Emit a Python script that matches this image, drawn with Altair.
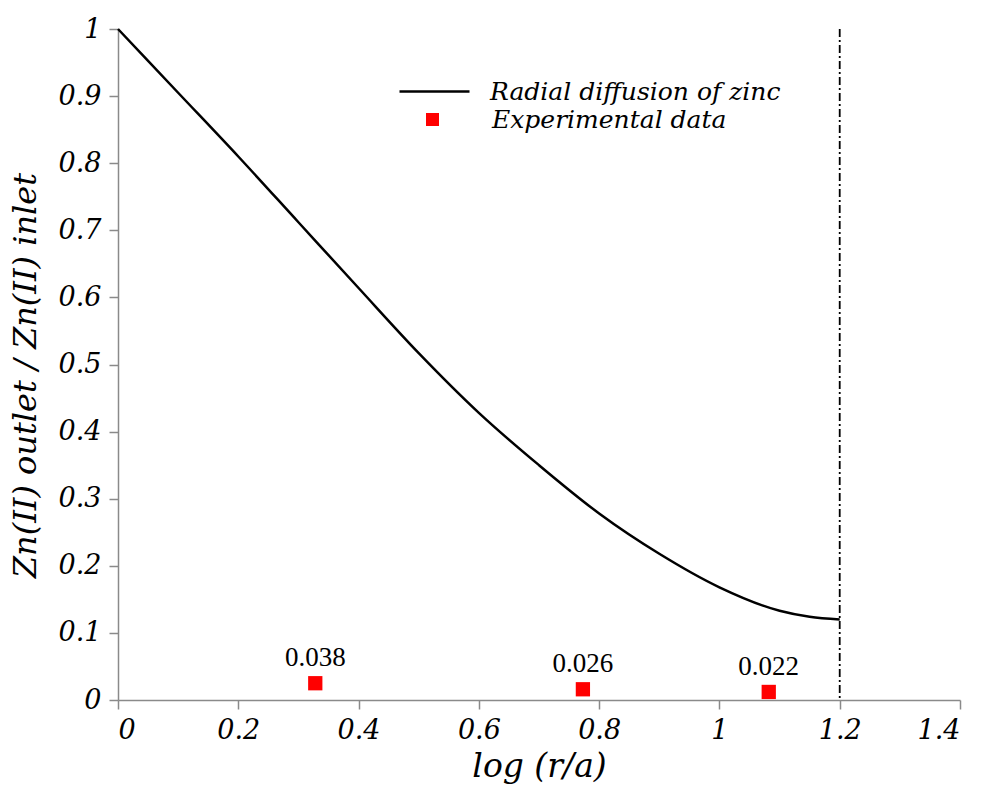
import altair as alt
import pandas as pd

# Model curve
curve_x = [0.0, 0.1, 0.2, 0.3, 0.4, 0.5, 0.6, 0.7, 0.8, 0.9, 1.0, 1.1, 1.15, 1.2]
curve_y = [1.0, 0.905, 0.81, 0.712, 0.614, 0.517, 0.428, 0.350, 0.278, 0.218, 0.168, 0.133, 0.124, 0.12]

# Experimental data (plotted positions) and their annotations
exp_x = [0.328, 0.773, 1.082]
exp_y = [0.025, 0.016, 0.012]
exp_labels = ["0.038", "0.026", "0.022"]

# Vertical reference line
vline_x = [1.2]

x_ticks = [0, 0.2, 0.4, 0.6, 0.8, 1.0, 1.2, 1.4]
y_ticks = [0, 0.1, 0.2, 0.3, 0.4, 0.5, 0.6, 0.7, 0.8, 0.9, 1.0]

line_name = "Radial diffusion of zinc"
pts_name = "Experimental data"

curve_df = pd.DataFrame({"x": curve_x, "y": curve_y, "model": line_name})
exp_df = pd.DataFrame({"x": exp_x, "y": exp_y, "label": exp_labels, "exp": pts_name})
vline_df = pd.DataFrame({"x": vline_x})

FONT = "DejaVu Serif"
AXIS_GREY = "#8a8a8a"

x_enc = alt.X(
    "x:Q",
    scale=alt.Scale(domain=[0, 1.4], nice=False),
    axis=alt.Axis(
        values=x_ticks, format="~g", title="log (r/a)",
        titleY=50,
    ),
)
y_enc = alt.Y(
    "y:Q",
    scale=alt.Scale(domain=[0, 1], nice=False),
    axis=alt.Axis(
        values=y_ticks, format="~g", title="Zn(II) outlet / Zn(II) inlet",
        titleX=-76, titleY=346, titleFontSize=32,
    ),
)

line = alt.Chart(curve_df).mark_line(strokeWidth=2.5, interpolate="monotone").encode(
    x=x_enc,
    y=y_enc,
    stroke=alt.Stroke(
        "model:N",
        scale=alt.Scale(domain=[line_name], range=["black"]),
        legend=alt.Legend(
            title=None, orient="none", legendX=280, legendY=26,
            symbolType="stroke", symbolSize=4900, symbolStrokeWidth=2.5,
            labelOffset=19, labelFont=FONT, labelFontStyle="italic",
            labelFontSize=25, labelColor="black", labelLimit=500, padding=0,
        ),
    ),
)

vline = alt.Chart(vline_df).mark_rule(
    color="black", strokeWidth=1.8, strokeDash=[8, 3, 2, 3]
).encode(x="x:Q")

points = alt.Chart(exp_df).mark_square(size=204, opacity=1, filled=True).encode(
    x="x:Q",
    y="y:Q",
    fill=alt.Fill(
        "exp:N",
        scale=alt.Scale(domain=[pts_name], range=["#ff0000"]),
        legend=alt.Legend(
            title=None, orient="none", legendX=302, legendY=78,
            symbolType="square", symbolSize=170, symbolOpacity=1, symbolStrokeWidth=0,
            labelOffset=47, labelFont=FONT, labelFontStyle="italic",
            labelFontSize=25, labelColor="black", labelLimit=500, padding=0,
        ),
    ),
)

labels = alt.Chart(exp_df).mark_text(
    dy=-17, font="Liberation Serif", fontSize=27, color="black", baseline="alphabetic"
).encode(x="x:Q", y="y:Q", text="label:N")

chart = (
    alt.layer(vline, line, points, labels)
    .resolve_scale(stroke="independent", fill="independent")
    .properties(
        width=842, height=671,
        autosize=alt.AutoSizeParams(type="none"),
        padding={"left": 118, "top": 29, "right": 26, "bottom": 85},
    )
    .configure_view(stroke=None)
    .configure_axis(
        grid=False,
        domainColor=AXIS_GREY, domainWidth=1.5,
        tickColor=AXIS_GREY, tickWidth=1.5, tickSize=9,
        labelFont=FONT, labelFontStyle="italic", labelFontSize=27, labelColor="black",
        labelPadding=8,
        titleFont=FONT, titleFontStyle="italic", titleFontSize=33, titleFontWeight="normal",
        titleColor="black",
    )
)

chart.save("out.html", embed_options={"renderer": "svg", "actions": False})
